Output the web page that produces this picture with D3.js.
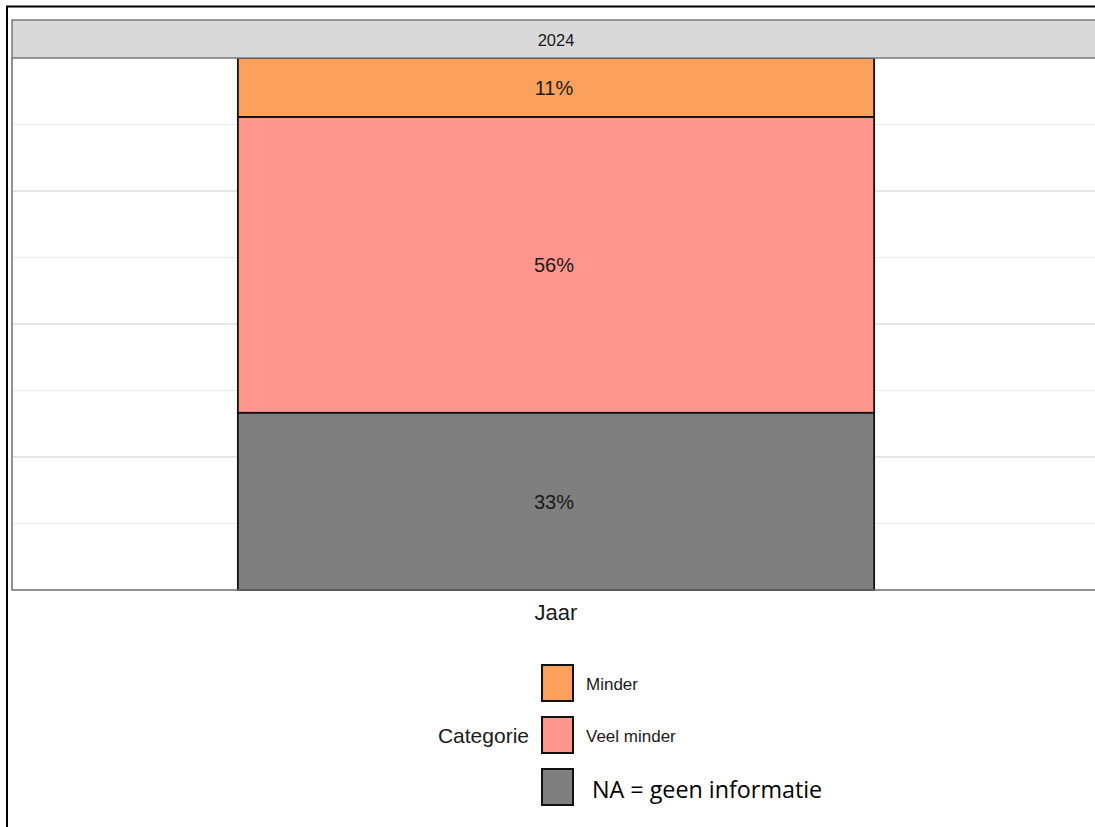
<!DOCTYPE html>
<html lang="nl">
<head>
<meta charset="UTF-8">
<script src="https://cdn.jsdelivr.net/npm/d3@7"></script>
<title>Categorie 2024</title>
<style>
    body { margin: 0; background: #fff; }
    text { font-family: "Liberation Sans", Arial, sans-serif; fill: #1a1a1a; }
</style>
</head>
<body>
<script>
    // data, bovenste segment eerst
    var years = ["2024"];
    var categories = ["Minder", "Veel minder", "NA"];
    var shares = [11.1, 55.6, 33.3];          // procent
    var labels = ["11%", "56%", "33%"];
    var legendLabels = ["Minder", "Veel minder", "NA = geen informatie"];
    var colors = ["#fba15b", "#ff968d", "#7f7f7f"];

    var width = 1095, height = 827;
    var panel = { left: 12, right: 1100, top: 58, bottom: 590 };

    var svg = d3.select("body").append("svg")
        .attr("width", width).attr("height", height);

    // buitenrand (rechts en onder vallen buiten beeld)
    svg.append("rect")
        .attr("x", 7).attr("y", 6.5).attr("width", 1300).attr("height", 1000)
        .attr("fill", "none").attr("stroke", "#000").attr("stroke-width", 2);

    var x = d3.scaleBand().domain(years)
        .range([panel.left, panel.right]).paddingInner(0).paddingOuter(0.355);
    var y = d3.scaleLinear().domain([0, 100]).range([panel.bottom, panel.top]);

    // rasterlijnen
    var minor = [12.5, 37.5, 62.5, 87.5], major = [25, 50, 75];
    svg.append("g").selectAll("line").data(minor).join("line")
        .attr("x1", panel.left).attr("x2", panel.right)
        .attr("y1", d => y(d)).attr("y2", d => y(d))
        .attr("stroke", "#ebebeb").attr("stroke-width", 1);
    svg.append("g").selectAll("line").data(major).join("line")
        .attr("x1", panel.left).attr("x2", panel.right)
        .attr("y1", d => y(d)).attr("y2", d => y(d))
        .attr("stroke", "#e6e6e6").attr("stroke-width", 1.8);

    // gestapelde balk: NA onderaan
    var rows = categories.map((c, i) => ({ cat: c, v: shares[i], label: labels[i], color: colors[i] }));
    var acc = 0;
    rows.slice().reverse().forEach(r => { r.y0 = acc; acc += r.v; r.y1 = acc; });
    var scaleK = 100 / acc;
    rows.forEach(r => { r.y0 *= scaleK; r.y1 *= scaleK; });

    var bars = svg.append("g");
    bars.selectAll("rect").data(rows).join("rect")
        .attr("x", x("2024")).attr("width", x.bandwidth())
        .attr("y", d => y(d.y1)).attr("height", d => y(d.y0) - y(d.y1))
        .attr("fill", d => d.color)
        .attr("stroke", "#111").attr("stroke-width", 1.8);

    bars.selectAll("text").data(rows).join("text")
        .attr("x", x("2024") + x.bandwidth() / 2 - 2)
        .attr("y", d => (y(d.y0) + y(d.y1)) / 2)
        .attr("dy", "0.37em")
        .attr("text-anchor", "middle")
        .attr("font-size", 20)
        .text(d => d.label);

    // panelrand
    svg.append("path")
        .attr("d", "M" + panel.left + "," + panel.top + "V" + panel.bottom + "H" + panel.right)
        .attr("fill", "none").attr("stroke", "#6e6e6e").attr("stroke-width", 1.5);

    // facetstrook
    svg.append("rect")
        .attr("x", panel.left).attr("y", 20)
        .attr("width", panel.right - panel.left + 10).attr("height", panel.top - 20)
        .attr("fill", "#d9d9d9").attr("stroke", "#7a7a7a").attr("stroke-width", 1.5);
    svg.append("text")
        .attr("x", x("2024") + x.bandwidth() / 2).attr("y", 46)
        .attr("text-anchor", "middle").attr("font-size", 16.5)
        .attr("fill", "#333")
        .text(years[0]);

    // x-as titel
    svg.append("text")
        .attr("x", x("2024") + x.bandwidth() / 2).attr("y", 620)
        .attr("text-anchor", "middle").attr("font-size", 22)
        .text("Jaar");

    // legenda
    var legend = svg.append("g");
    var ly = d3.scalePoint().domain(categories).range([664, 768]);
    legend.append("text")
        .attr("x", 529).attr("y", 743)
        .attr("text-anchor", "end").attr("font-size", 21)
        .text("Categorie");
    legend.selectAll("rect").data(rows).join("rect")
        .attr("x", 542).attr("y", d => ly(d.cat) + 1)
        .attr("width", 31).attr("height", 36)
        .attr("fill", d => d.color)
        .attr("stroke", "#111").attr("stroke-width", 2);
    legend.selectAll("text.lab").data(rows).join("text")
        .attr("class", "lab")
        .attr("x", (d, i) => i < 2 ? 586 : 592)
        .attr("y", (d, i) => i < 2 ? ly(d.cat) + 26 : ly(d.cat) + 30)
        .attr("font-size", (d, i) => i < 2 ? 17 : 23.3)
        .style("font-family", (d, i) => i < 2 ? null : "'Open Sans', sans-serif")
        .style("fill", (d, i) => i < 2 ? "#1a1a1a" : "#000")
        .text((d, i) => legendLabels[i]);
</script>
</body>
</html>
